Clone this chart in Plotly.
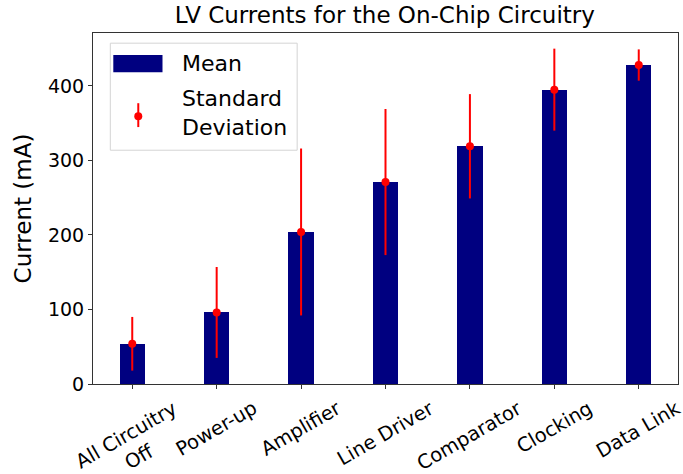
import plotly.graph_objects as go

# Circuit stages and measured LV currents (mA)
stages = ["All Circuitry<br>Off", "Power-up", "Amplifier", "Line Driver",
          "Comparator", "Clocking", "Data Link"]
mean_ma = [54, 96, 204, 271, 319, 395, 428]
std_ma = [36, 61, 112, 98, 70, 55, 21]

x_pos = list(range(len(stages)))
FONT = "DejaVu Sans, Liberation Sans, sans-serif"
BAR_COLOR = "#000080"
ERR_COLOR = "#ff0000"

fig = go.Figure()
fig.add_trace(go.Bar(
    x=x_pos, y=mean_ma, width=0.3, name="Mean", showlegend=False,
    marker=dict(color=BAR_COLOR, line=dict(width=0)),
))
fig.add_trace(go.Scatter(
    x=x_pos, y=mean_ma, mode="markers", name="Standard Deviation", showlegend=False,
    marker=dict(color=ERR_COLOR, size=8),
    error_y=dict(type="data", array=std_ma, visible=True, color=ERR_COLOR,
                 thickness=2, width=0),
))

# rotated category labels, centred under each tick
for xi, label in zip(x_pos, stages):
    fig.add_annotation(
        x=xi, xref="x", y=0, yref="paper", yshift=-10,
        text=label, textangle=-30, showarrow=False,
        xanchor="center", yanchor="top", align="center",
        font=dict(size=19.5, family=FONT, color="black"),
    )

# legend box drawn in axes-fraction coordinates
shapes = [
    dict(type="rect", xref="paper", yref="paper", x0=0.0296, x1=0.349, y0=0.666, y1=0.971,
         line=dict(color="#d4d4d4", width=1), fillcolor="rgba(255,255,255,0.8)", layer="above"),
    dict(type="rect", xref="paper", yref="paper", x0=0.0347, x1=0.1188, y0=0.888, y1=0.937,
         line=dict(width=0), fillcolor=BAR_COLOR, layer="above"),
    dict(type="line", xref="paper", yref="paper", x0=0.0774, x1=0.0774, y0=0.732, y1=0.800,
         line=dict(color=ERR_COLOR, width=2), layer="above"),
    dict(type="circle", xref="paper", yref="paper", x0=0.0774 - 4 / 585.3, x1=0.0774 + 4 / 585.3,
         y0=0.763 - 4 / 351.3, y1=0.763 + 4 / 351.3,
         line=dict(width=0), fillcolor=ERR_COLOR, layer="above"),
]
fig.add_annotation(x=0.148, y=0.914, xref="paper", yref="paper", text="Mean",
                   showarrow=False, xanchor="left", yanchor="middle", align="left",
                   font=dict(size=22, family=FONT, color="black"))
fig.add_annotation(x=0.148, y=0.773, xref="paper", yref="paper", text="Standard<br>Deviation",
                   showarrow=False, xanchor="left", yanchor="middle", align="left",
                   font=dict(size=22, family=FONT, color="black"))

fig.update_layout(
    width=683, height=474,
    margin=dict(l=93, r=5, t=33, b=90, autoexpand=False),
    paper_bgcolor="white", plot_bgcolor="white",
    font=dict(family=FONT, color="black"),
    title=dict(text="LV Currents for the On-Chip Circuitry", x=0.5635, xanchor="center",
               y=0.968, yanchor="middle", font=dict(size=23)),
    bargap=0,
    showlegend=False,
    shapes=shapes,
)
fig.update_xaxes(
    range=[-0.465, 6.465], tickmode="array", tickvals=x_pos, showticklabels=False,
    ticks="outside", ticklen=4, tickcolor="#333",
    showline=True, linecolor="#333", mirror=True, showgrid=False, zeroline=False,
)
fig.update_yaxes(
    range=[0, 471], tickvals=[0, 100, 200, 300, 400], tickfont=dict(size=19),
    ticks="outside", ticklen=4, tickcolor="#333", showline=True, linecolor="#333",
    mirror=True, showgrid=False, zeroline=False,
    title=dict(text="Current (mA)", font=dict(size=23), standoff=9),
)

fig.write_html("out.html")
